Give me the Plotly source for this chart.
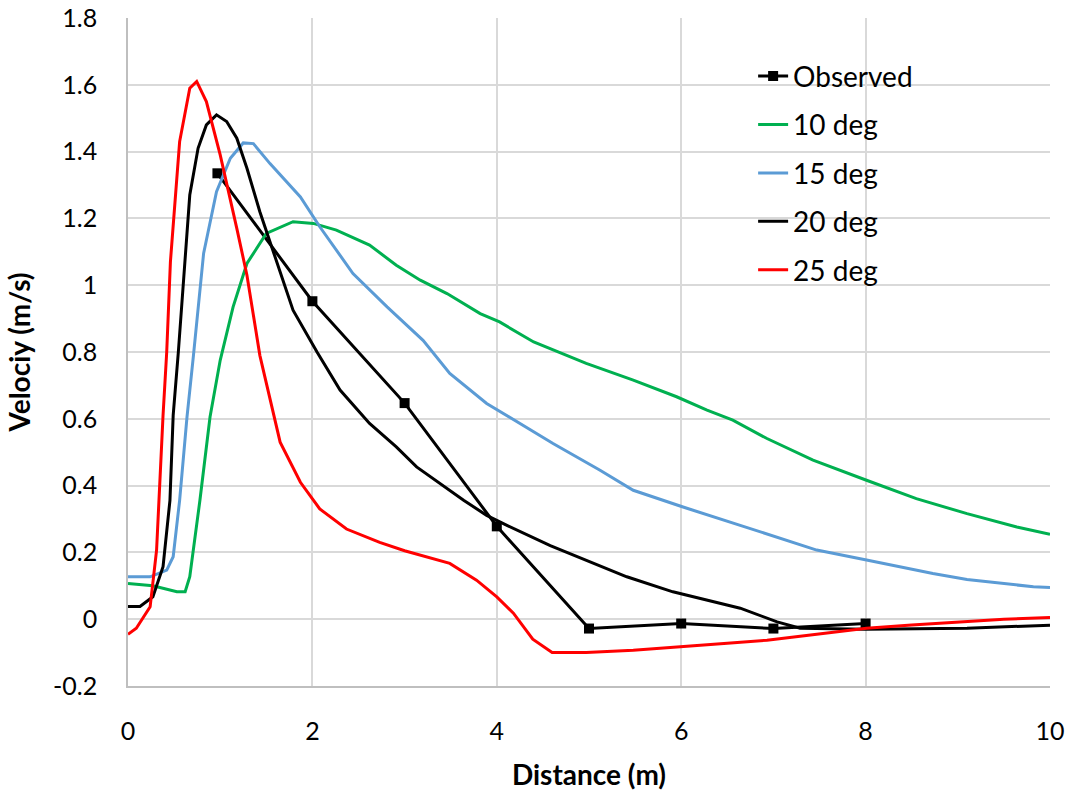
import plotly.graph_objects as go

# Observed
obs_x = [0.97, 2, 3, 4, 5, 6, 7, 8]
obs_y = [1.335, 0.952, 0.647, 0.278, -0.028, -0.013, -0.028, -0.013]

# 10 deg
d10_x = [0, 0.27, 0.53, 0.62, 0.67, 0.78, 0.89, 1.0, 1.14, 1.29, 1.50, 1.79, 2.01, 2.26, 2.62, 2.91,
         3.17, 3.46, 3.82, 4.03, 4.40, 4.97, 5.48, 5.95, 6.28, 6.56, 6.93, 7.43, 8.01, 8.55, 9.1, 9.64, 10]
d10_y = [0.107, 0.10, 0.082, 0.082, 0.127, 0.356, 0.606, 0.775, 0.935, 1.065, 1.155, 1.19, 1.185, 1.165,
         1.12, 1.06, 1.015, 0.975, 0.915, 0.89, 0.83, 0.766, 0.716, 0.666, 0.626, 0.596, 0.541, 0.476,
         0.416, 0.361, 0.316, 0.276, 0.254]

# 15 deg
d15_x = [0, 0.24, 0.42, 0.49, 0.56, 0.64, 0.71, 0.82, 0.96, 1.11, 1.25, 1.36, 1.54, 1.87, 2.08, 2.44,
         2.81, 3.2, 3.49, 3.89, 4.61, 5.12, 5.48, 6.02, 6.64, 7.47, 8.01, 8.73, 9.1, 9.82, 10]
d15_y = [0.127, 0.127, 0.147, 0.187, 0.356, 0.606, 0.79, 1.095, 1.28, 1.38, 1.426, 1.424, 1.364, 1.264,
         1.175, 1.035, 0.935, 0.835, 0.736, 0.646, 0.526, 0.446, 0.386, 0.336, 0.281, 0.207, 0.177,
         0.137, 0.119, 0.097, 0.095]

# 20 deg
d20_x = [0, 0.13, 0.27, 0.38, 0.455, 0.49, 0.546, 0.67, 0.76, 0.85, 0.96, 1.07, 1.18, 1.29, 1.43, 1.58,
         1.79, 2.05, 2.30, 2.62, 2.91, 3.13, 3.64, 3.89, 4.11, 4.58, 4.97, 5.41, 5.91, 6.28, 6.64, 7.04,
         7.29, 8.0, 9.1, 10]
d20_y = [0.038, 0.038, 0.067, 0.157, 0.356, 0.61, 0.80, 1.27, 1.41, 1.48, 1.51, 1.49, 1.44, 1.35, 1.22,
         1.095, 0.925, 0.80, 0.686, 0.586, 0.516, 0.456, 0.356, 0.311, 0.281, 0.22, 0.177, 0.127, 0.082,
         0.057, 0.033, -0.008, -0.027, -0.03, -0.027, -0.018]

# 25 deg
d25_x = [0, 0.09, 0.24, 0.27, 0.31, 0.38, 0.42, 0.46, 0.56, 0.67, 0.745, 0.85, 1.0, 1.18, 1.29, 1.43,
         1.65, 1.87, 2.08, 2.37, 2.73, 3.0, 3.31, 3.49, 3.78, 4.0, 4.18, 4.39, 4.6, 4.97, 5.48, 6.02,
         6.5, 6.93, 7.5, 8.01, 8.5, 9.1, 9.5, 10]
d25_y = [-0.045, -0.027, 0.037, 0.11, 0.207, 0.61, 0.80, 1.07, 1.43, 1.59, 1.61, 1.55, 1.39, 1.17, 1.03,
         0.79, 0.53, 0.41, 0.33, 0.27, 0.23, 0.205, 0.18, 0.167, 0.117, 0.067, 0.018, -0.06, -0.10,
         -0.10, -0.093, -0.083, -0.072, -0.063, -0.045, -0.027, -0.017, -0.008, 0.0, 0.005]

x_ticks = [0, 2, 4, 6, 8, 10]
y_ticks = [-0.2, 0, 0.2, 0.4, 0.6, 0.8, 1, 1.2, 1.4, 1.6, 1.8]
y_labels = ["-0.2", "0", "0.2", "0.4", "0.6", "0.8", "1", "1.2", "1.4", "1.6", "1.8"]

FONT = "Lato, 'Open Sans', sans-serif"

fig = go.Figure()
fig.add_trace(go.Scatter(x=obs_x, y=obs_y, name="Observed", mode="lines+markers",
                         line=dict(color="black", width=3),
                         marker=dict(symbol="square", size=10, color="black"),
                         legendgroup="a"))
series = [("10 deg", d10_x, d10_y, "#00B050"),
          ("15 deg", d15_x, d15_y, "#5B9BD5"),
          ("20 deg", d20_x, d20_y, "#000000"),
          ("25 deg", d25_x, d25_y, "#FF0000")]
for i, (nm, xs, ys, col) in enumerate(series):
    fig.add_trace(go.Scatter(x=xs, y=ys, name=nm, mode="lines",
                             line=dict(color=col, width=3), legendgroup=nm))

fig.update_layout(
    width=1071, height=796,
    margin=dict(l=128, r=21, t=18, b=110, autoexpand=False),
    paper_bgcolor="white", plot_bgcolor="white",
    font=dict(family=FONT, color="#000000", size=20),
    legend=dict(x=0.678, y=0.95, xanchor="left", yanchor="top",
                font=dict(size=28, family=FONT), bgcolor="rgba(0,0,0,0)",
                tracegroupgap=9, traceorder="grouped"),
    showlegend=True,
)
fig.update_xaxes(range=[0, 10], tickvals=x_ticks, showgrid=True, gridcolor="#D9D9D9", gridwidth=1.5,
                 showline=True, linecolor="#BFBFBF", linewidth=1.5, zeroline=False, automargin=False,
                 ticks="", ticklabelstandoff=22, tickfont=dict(size=25),
                 title=dict(text="<b>Distance (m)</b>", font=dict(size=28), standoff=22))
fig.update_yaxes(range=[-0.2, 1.8], tickvals=y_ticks, ticktext=y_labels, showgrid=True,
                 gridcolor="#D9D9D9", gridwidth=1.5, automargin=False,
                 showline=True, linecolor="#BFBFBF", linewidth=1.5, zeroline=False,
                 ticks="", ticklabelstandoff=24, tickfont=dict(size=25),
                 title=dict(text="<b>Velociy (m/s)</b>", font=dict(size=28), standoff=14))

fig.write_html("out.html")
